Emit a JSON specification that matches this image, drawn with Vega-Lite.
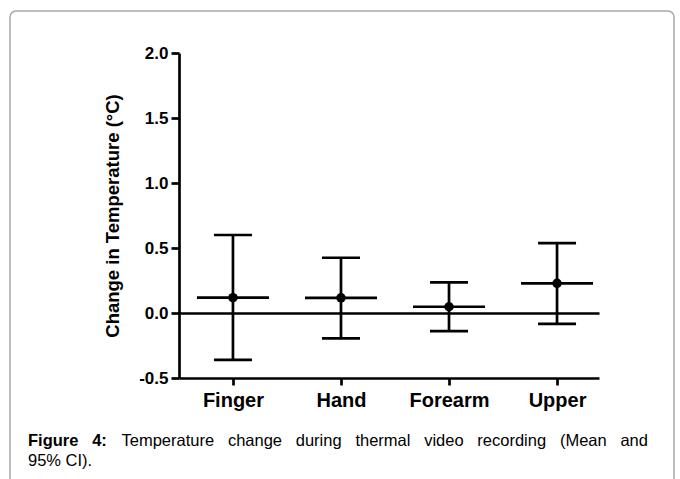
{
  "$schema": "https://vega.github.io/schema/vega-lite/v6.json",
  "width": 664,
  "height": 478,
  "autosize": {"type": "none"},
  "padding": {"left": 10, "top": 11, "right": 6, "bottom": -10},
  "background": "white",
  "config": {
    "view": {"stroke": "#a8a8a8", "strokeWidth": 1.5, "cornerRadius": 6},
    "font": "Liberation Sans"
  },
  "title": {
    "text": "Figure\u00a0\u00a0\u00a04:",
    "subtitle": "95% CI).",
    "orient": "bottom",
    "anchor": "start",
    "frame": "group",
    "offset": -56,
    "dx": 18,
    "font": "Liberation Sans",
    "fontSize": 16.5,
    "fontWeight": "bold",
    "color": "black",
    "subtitleFont": "Liberation Sans",
    "subtitleFontSize": 16.5,
    "subtitleFontWeight": "normal",
    "subtitleColor": "black",
    "subtitlePadding": 3
  },
  "data": {
    "values": [
      {"site": "Finger", "mean": 0.118, "lo": -0.36, "hi": 0.6},
      {"site": "Hand", "mean": 0.117, "lo": -0.195, "hi": 0.425},
      {"site": "Forearm", "mean": 0.048, "lo": -0.14, "hi": 0.236},
      {"site": "Upper", "mean": 0.228, "lo": -0.083, "hi": 0.537}
    ]
  },
  "encoding": {
    "x": {
      "field": "site",
      "type": "nominal",
      "sort": ["Finger", "Hand", "Forearm", "Upper"],
      "scale": {"type": "point", "domain": ["Finger", "Hand", "Forearm", "Upper"], "range": [169, 589], "padding": 0.444, "align": 0.5625},
      "axis": {
        "title": "Temperature\u00a0\u00a0\u00a0change\u00a0\u00a0\u00a0during\u00a0\u00a0\u00a0thermal\u00a0\u00a0\u00a0video\u00a0\u00a0\u00a0recording\u00a0\u00a0\u00a0(Mean\u00a0\u00a0\u00a0and",
        "titleX": 111,
        "titleY": 67,
        "titleAlign": "left",
        "titleBaseline": "alphabetic",
        "titleFont": "Liberation Sans",
        "titleFontSize": 16.5,
        "titleFontWeight": "normal",
        "titleColor": "black",
        "offset": -111,
        "labelAngle": 0,
        "labelFont": "Liberation Sans",
        "labelFontSize": 20,
        "labelFontWeight": "bold",
        "labelColor": "black",
        "labelPadding": 5,
        "tickSize": 7,
        "tickWidth": 2.7,
        "tickColor": "black",
        "domainColor": "black",
        "domainWidth": 2.7,
        "grid": false
      }
    }
  },
  "layer": [
    {
      "mark": {"type": "rule", "strokeWidth": 2.7, "color": "black"},
      "encoding": {
        "y": {
          "field": "lo",
          "type": "quantitative",
          "title": "Change in Temperature (°C)",
          "scale": {"domain": [-0.5, 2], "range": [367, 42], "nice": false, "zero": false},
          "axis": {
            "values": [-0.5, 0, 0.5, 1, 1.5, 2],
            "format": ".1f",
            "labelExpr": "replace(datum.label, '\u2212', '-')",
            "offset": -169,
            "labelFont": "Liberation Sans",
            "labelFontSize": 17,
            "labelFontWeight": "bold",
            "labelColor": "black",
            "labelPadding": 3,
            "tickSize": 8,
            "tickWidth": 2.7,
            "tickColor": "black",
            "domainColor": "black",
            "domainWidth": 2.7,
            "titleFont": "Liberation Sans",
            "titleFontSize": 18.5,
            "titleFontWeight": "bold",
            "titleColor": "black",
            "titlePadding": 16,
            "grid": true,
            "gridColor": "black",
            "gridWidth": 2.7,
            "gridOpacity": {"condition": {"test": "datum.value === 0", "value": 1}, "value": 0}
          }
        },
        "y2": {"field": "hi"}
      }
    },
    {
      "mark": {"type": "tick", "size": 38, "thickness": 2.7, "color": "black", "opacity": 1},
      "encoding": {"y": {"field": "lo", "type": "quantitative", "title": "Change in Temperature (°C)"}}
    },
    {
      "mark": {"type": "tick", "size": 38, "thickness": 2.7, "color": "black", "opacity": 1},
      "encoding": {"y": {"field": "hi", "type": "quantitative", "title": "Change in Temperature (°C)"}}
    },
    {
      "mark": {"type": "tick", "size": 72, "thickness": 2.7, "color": "black", "opacity": 1},
      "encoding": {"y": {"field": "mean", "type": "quantitative", "title": "Change in Temperature (°C)"}}
    },
    {
      "mark": {"type": "circle", "size": 90, "color": "black", "opacity": 1},
      "encoding": {"y": {"field": "mean", "type": "quantitative", "title": "Change in Temperature (°C)"}}
    }
  ]
}
